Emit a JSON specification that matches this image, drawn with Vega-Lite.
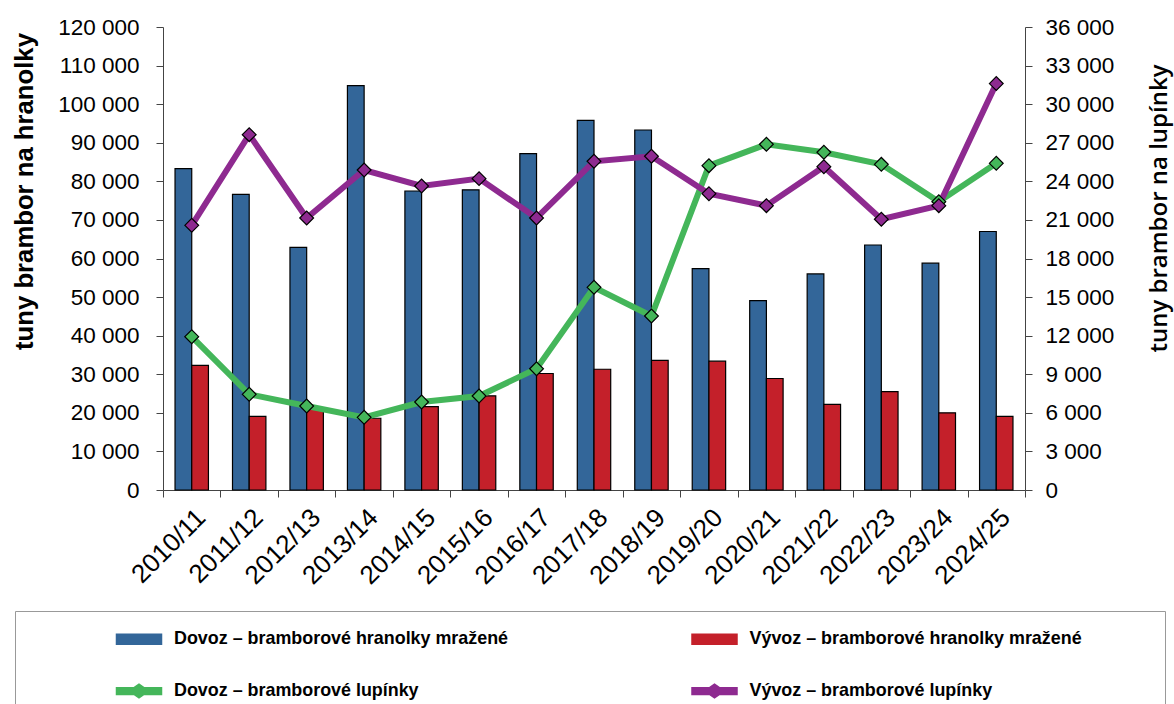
{
  "$schema": "https://vega.github.io/schema/vega-lite/v6.json",
  "width": 862,
  "height": 463,
  "autosize": {"type": "none"},
  "padding": {"left": 163, "top": 27, "right": 149, "bottom": 214},
  "background": "white",
  "config": {
    "view": {"stroke": null},
    "font": "Liberation Sans",
    "axis": {"labelFont": "Liberation Sans", "labelColor": "black", "domainColor": "#444", "tickColor": "#444", "grid": false}
  },
  "datasets": {
    "bars": [
      {"season": "2010/11", "series": "Dovoz – bramborové hranolky mražené", "value": 83300},
      {"season": "2011/12", "series": "Dovoz – bramborové hranolky mražené", "value": 76600},
      {"season": "2012/13", "series": "Dovoz – bramborové hranolky mražené", "value": 62900},
      {"season": "2013/14", "series": "Dovoz – bramborové hranolky mražené", "value": 104800},
      {"season": "2014/15", "series": "Dovoz – bramborové hranolky mražené", "value": 77500},
      {"season": "2015/16", "series": "Dovoz – bramborové hranolky mražené", "value": 77800},
      {"season": "2016/17", "series": "Dovoz – bramborové hranolky mražené", "value": 87200},
      {"season": "2017/18", "series": "Dovoz – bramborové hranolky mražené", "value": 95800},
      {"season": "2018/19", "series": "Dovoz – bramborové hranolky mražené", "value": 93300},
      {"season": "2019/20", "series": "Dovoz – bramborové hranolky mražené", "value": 57400},
      {"season": "2020/21", "series": "Dovoz – bramborové hranolky mražené", "value": 49100},
      {"season": "2021/22", "series": "Dovoz – bramborové hranolky mražené", "value": 56000},
      {"season": "2022/23", "series": "Dovoz – bramborové hranolky mražené", "value": 63500},
      {"season": "2023/24", "series": "Dovoz – bramborové hranolky mražené", "value": 58800},
      {"season": "2024/25", "series": "Dovoz – bramborové hranolky mražené", "value": 67000},
      {"season": "2010/11", "series": "Vývoz – bramborové hranolky mražené", "value": 32300},
      {"season": "2011/12", "series": "Vývoz – bramborové hranolky mražené", "value": 19100},
      {"season": "2012/13", "series": "Vývoz – bramborové hranolky mražené", "value": 20900},
      {"season": "2013/14", "series": "Vývoz – bramborové hranolky mražené", "value": 18600},
      {"season": "2014/15", "series": "Vývoz – bramborové hranolky mražené", "value": 21600},
      {"season": "2015/16", "series": "Vývoz – bramborové hranolky mražené", "value": 24400},
      {"season": "2016/17", "series": "Vývoz – bramborové hranolky mražené", "value": 30200},
      {"season": "2017/18", "series": "Vývoz – bramborové hranolky mražené", "value": 31300},
      {"season": "2018/19", "series": "Vývoz – bramborové hranolky mražené", "value": 33600},
      {"season": "2019/20", "series": "Vývoz – bramborové hranolky mražené", "value": 33400},
      {"season": "2020/21", "series": "Vývoz – bramborové hranolky mražené", "value": 28900},
      {"season": "2021/22", "series": "Vývoz – bramborové hranolky mražené", "value": 22200},
      {"season": "2022/23", "series": "Vývoz – bramborové hranolky mražené", "value": 25500},
      {"season": "2023/24", "series": "Vývoz – bramborové hranolky mražené", "value": 20000},
      {"season": "2024/25", "series": "Vývoz – bramborové hranolky mražené", "value": 19100}
    ],
    "lines": [
      {"season": "2010/11", "series": "Dovoz – bramborové lupínky", "value": 11920},
      {"season": "2011/12", "series": "Dovoz – bramborové lupínky", "value": 7440},
      {"season": "2012/13", "series": "Dovoz – bramborové lupínky", "value": 6530},
      {"season": "2013/14", "series": "Dovoz – bramborové lupínky", "value": 5650},
      {"season": "2014/15", "series": "Dovoz – bramborové lupínky", "value": 6840},
      {"season": "2015/16", "series": "Dovoz – bramborové lupínky", "value": 7310},
      {"season": "2016/17", "series": "Dovoz – bramborové lupínky", "value": 9430},
      {"season": "2017/18", "series": "Dovoz – bramborové lupínky", "value": 15760},
      {"season": "2018/19", "series": "Dovoz – bramborové lupínky", "value": 13530},
      {"season": "2019/20", "series": "Dovoz – bramborové lupínky", "value": 25220},
      {"season": "2020/21", "series": "Dovoz – bramborové lupínky", "value": 26880},
      {"season": "2021/22", "series": "Dovoz – bramborové lupínky", "value": 26260},
      {"season": "2022/23", "series": "Dovoz – bramborové lupínky", "value": 25320},
      {"season": "2023/24", "series": "Dovoz – bramborové lupínky", "value": 22420},
      {"season": "2024/25", "series": "Dovoz – bramborové lupínky", "value": 25400},
      {"season": "2010/11", "series": "Vývoz – bramborové lupínky", "value": 20580},
      {"season": "2011/12", "series": "Vývoz – bramborové lupínky", "value": 27630},
      {"season": "2012/13", "series": "Vývoz – bramborové lupínky", "value": 21150},
      {"season": "2013/14", "series": "Vývoz – bramborové lupínky", "value": 24880},
      {"season": "2014/15", "series": "Vývoz – bramborové lupínky", "value": 23640},
      {"season": "2015/16", "series": "Vývoz – bramborové lupínky", "value": 24210},
      {"season": "2016/17", "series": "Vývoz – bramborové lupínky", "value": 21150},
      {"season": "2017/18", "series": "Vývoz – bramborové lupínky", "value": 25560},
      {"season": "2018/19", "series": "Vývoz – bramborové lupínky", "value": 25950},
      {"season": "2019/20", "series": "Vývoz – bramborové lupínky", "value": 23040},
      {"season": "2020/21", "series": "Vývoz – bramborové lupínky", "value": 22110},
      {"season": "2021/22", "series": "Vývoz – bramborové lupínky", "value": 25140},
      {"season": "2022/23", "series": "Vývoz – bramborové lupínky", "value": 21050},
      {"season": "2023/24", "series": "Vývoz – bramborové lupínky", "value": 22110},
      {"season": "2024/25", "series": "Vývoz – bramborové lupínky", "value": 31600}
    ]
  },
  "encoding": {
    "x": {
      "field": "season",
      "type": "nominal",
      "sort": null,
      "scale": {"paddingInner": 0, "paddingOuter": 0},
      "axis": {
        "title": null,
        "tickBand": "extent",
        "labelAngle": -45,
        "labelFontSize": 26,
        "labelPadding": 7,
        "tickSize": 7
      }
    },
    "color": {
      "field": "series",
      "type": "nominal",
      "scale": {
        "domain": ["Dovoz – bramborové hranolky mražené", "Vývoz – bramborové hranolky mražené", "Dovoz – bramborové lupínky", "Vývoz – bramborové lupínky"],
        "range": ["#336699", "#C4202A", "#44B65A", "#8E2A90"]
      },
      "legend": {
        "orient": "none",
        "direction": "horizontal",
        "legendX": -148,
        "legendY": 584,
        "columns": 2,
        "title": "\u2800\u2800\u2800\u2800\u2800\u2800",
        "titleOrient": "left",
        "titleFontSize": 21.9,
        "titlePadding": 0,
        "titleColor": "white",
        "labelFont": "Liberation Sans",
        "labelFontSize": 17.9,
        "labelFontWeight": "bold",
        "labelColor": "black",
        "labelLimit": 1000,
        "labelOffset": 11.5,
        "labelExpr": "indexof(datum.label, 'Vývoz – bramborové hranolky') == 0 ? datum.label + '\u2800\u2800\u2800\u2800\u2800\u2800' : datum.label",
        "symbolSize": 2025,
        "symbolType": "M-1,-0.22H1V0.22H-1Z",
        "columnPadding": 180.5,
        "rowPadding": 19,
        "padding": 4.5,
        "strokeColor": "#999999",
        "fillColor": "white",
        "encode": {
          "symbols": {
            "update": {
              "shape": {"signal": "indexof(datum.value, 'lupínky') > 0 ? 'M-1,-0.15H-0.22L0,-0.3L0.22,-0.15H1V0.15H0.22L0,0.3L-0.22,0.15H-1Z' : 'M-1,-0.22H1V0.22H-1Z'"},
              "fill": {"signal": "scale('color', datum.value)"},
              "stroke": {"signal": "indexof(datum.value, 'lupínky') > 0 ? scale('color', datum.value) : 'black'"},
              "strokeWidth": {"value": 1.5},
              "opacity": {"value": 1}
            }
          }
        }
      }
    }
  },
  "layer": [
    {
      "data": {"name": "bars"},
      "mark": {"type": "bar", "stroke": "black", "strokeWidth": 1.2},
      "encoding": {
        "xOffset": {
          "field": "series",
          "type": "nominal",
          "sort": ["Dovoz – bramborové hranolky mražené", "Vývoz – bramborové hranolky mražené"],
          "scale": {"paddingInner": 0, "paddingOuter": 0.72}
        },
        "y": {
          "field": "value",
          "type": "quantitative",
          "scale": {"domain": [0, 120000], "nice": false},
          "axis": {
            "orient": "left",
            "values": [0, 10000, 20000, 30000, 40000, 50000, 60000, 70000, 80000, 90000, 100000, 110000, 120000],
            "labelExpr": "replace(format(datum.value, ','), ',', ' ')",
            "labelFontSize": 22.5,
            "labelPadding": 17,
            "tickSize": 7,
            "title": "tuny brambor na hranolky",
            "titleFont": "Liberation Sans",
            "titleFontSize": 25.7,
            "titleFontWeight": "bold",
            "titleColor": "black",
            "titleX": -139,
            "titleY": 164,
            "titleAngle": 270,
            "titleAlign": "center",
            "titleBaseline": "middle"
          }
        }
      }
    },
    {
      "data": {"name": "lines"},
      "encoding": {
        "y": {
          "field": "value",
          "type": "quantitative",
          "scale": {"domain": [0, 36000], "nice": false},
          "axis": {
            "orient": "right",
            "values": [0, 3000, 6000, 9000, 12000, 15000, 18000, 21000, 24000, 27000, 30000, 33000, 36000],
            "labelExpr": "replace(format(datum.value, ','), ',', ' ')",
            "labelFontSize": 22.5,
            "labelPadding": 13,
            "tickSize": 7,
            "title": "tuny brambor na lupínky",
            "titleFont": "Open Sans",
            "titleFontSize": 24,
            "titleFontWeight": 600,
            "titleColor": "black",
            "titleX": 134,
            "titleY": 181,
            "titleAngle": 270,
            "titleAlign": "center",
            "titleBaseline": "middle"
          }
        }
      },
      "layer": [
        {"mark": {"type": "line", "strokeWidth": 6}},
        {"mark": {"type": "point", "shape": "diamond", "filled": true, "size": 190, "stroke": "black", "strokeWidth": 1.2, "opacity": 1}}
      ]
    }
  ],
  "resolve": {"scale": {"y": "independent"}}
}
